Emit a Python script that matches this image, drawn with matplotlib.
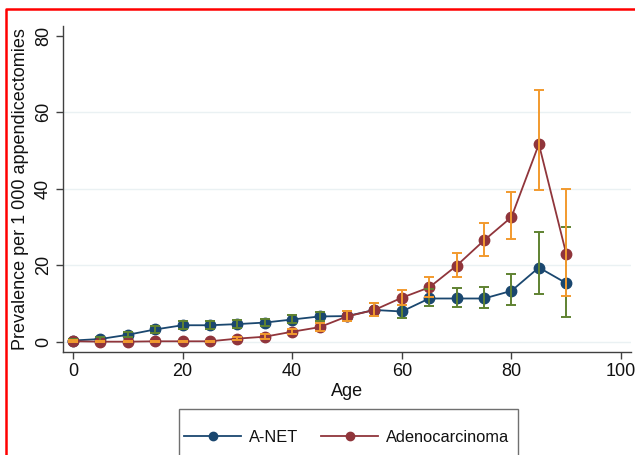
"""Prevalence of A-NET and adenocarcinoma per 1 000 appendicectomies by age,
with confidence-interval caps (Stata s2color look)."""

import matplotlib
matplotlib.use("Agg")
import matplotlib.pyplot as plt
from matplotlib.lines import Line2D
from matplotlib.patches import Rectangle

plt.rcParams["font.family"] = ["Liberation Sans", "DejaVu Sans"]

AGE = [0, 5, 10, 15, 20, 25, 30, 35, 40, 45, 50, 55, 60, 65, 70, 75, 80, 85, 90]

ANET = [0.3, 0.7, 1.8, 3.2, 4.3, 4.3, 4.6, 5.0, 5.8, 6.6, 6.7, 8.3, 7.9,
        11.3, 11.3, 11.3, 13.3, 19.4, 15.3]
ANET_LO = [0.0, 0.3, 1.1, 2.4, 3.4, 3.4, 3.7, 4.1, 4.8, 5.4, 5.4, 6.8, 6.3,
           9.3, 9.0, 8.7, 9.7, 12.4, 6.5]
ANET_HI = [0.8, 1.2, 2.6, 4.1, 5.3, 5.3, 5.6, 6.0, 6.9, 7.8, 8.0, 10.0, 9.7,
           13.7, 14.0, 14.4, 17.7, 28.8, 30.0]

ADENO = [0.1, 0.0, 0.0, 0.1, 0.1, 0.1, 0.8, 1.3, 2.6, 3.8, 6.6, 8.3, 11.5,
         14.2, 19.9, 26.5, 32.6, 51.7, 22.9]
ADENO_LO = [0.0, 0.0, 0.0, 0.0, 0.0, 0.0, 0.4, 0.8, 1.9, 2.9, 5.3, 6.8, 9.7,
            11.8, 16.9, 22.5, 26.9, 39.8, 11.9]
ADENO_HI = [0.4, 0.2, 0.2, 0.3, 0.3, 0.3, 1.3, 2.0, 3.4, 4.8, 8.0, 10.0, 13.5,
            17.0, 23.2, 31.1, 39.2, 65.9, 39.9]

LABELS = ["A-NET", "Adenocarcinoma"]
XTICKS = [0, 20, 40, 60, 80, 100]
YTICKS = [0, 20, 40, 60, 80]
GRID_Y = [0, 20, 40, 60]

NAVY = "#1a476f"
MAROON = "#90353b"
GREEN = "#5f8231"
ORANGE = "#f29a2e"
GRID = "#eaf1f3"
AXIS = "#404040"
TEXT = "#111111"

W, H = 635, 455


def caps(ax, y, lo, hi, color, z):
    # asymmetric CI caps drawn on top of the markers, like Stata's rcap
    ax.errorbar(AGE, y, yerr=[[v - l for v, l in zip(y, lo)],
                              [h - v for v, h in zip(y, hi)]],
                fmt="none", ecolor=color, elinewidth=1.4, capsize=3.5,
                capthick=1.4, zorder=z)


fig = plt.figure(figsize=(W / 100, H / 100), dpi=100)
fig.patch.set_facecolor("white")
ax = fig.add_axes([63 / W, 1 - 352 / H, (631 - 63) / W, (352 - 26) / H])

for g in GRID_Y:
    ax.axhline(g, color=GRID, linewidth=1.0, zorder=0)

ax.plot(AGE, ANET, color=NAVY, linewidth=1.3, marker="o", markersize=7.5,
        zorder=3)
ax.plot(AGE, ADENO, color=MAROON, linewidth=1.3, marker="o", markersize=7.5,
        zorder=4)
caps(ax, ANET, ANET_LO, ANET_HI, GREEN, 5)
caps(ax, ADENO, ADENO_LO, ADENO_HI, ORANGE, 6)

ax.set_xlim(-1.8, 101.8)
ax.set_ylim(-2.7, 82.6)
ax.set_xticks(XTICKS)
ax.set_yticks(YTICKS)
ax.tick_params(axis="both", length=5, width=1, color=AXIS, labelsize=13,
               labelcolor=TEXT, direction="out")
ax.tick_params(axis="y", labelrotation=90, pad=3)
ax.tick_params(axis="x", pad=3)
for lab in ax.get_yticklabels():
    lab.set_va("center")
for side in ("top", "right"):
    ax.spines[side].set_visible(False)
for side in ("left", "bottom"):
    ax.spines[side].set_color(AXIS)
    ax.spines[side].set_linewidth(1.0)

ax.set_xlabel("Age", fontsize=13, labelpad=2, color=TEXT)
ax.set_ylabel("Prevalence per 1 000 appendicectomies", fontsize=13,
              labelpad=4, color=TEXT)

# legend box runs past the bottom edge, as in the cropped original
fig.patches.append(Rectangle((179 / W, 1 - 470 / H), (518 - 179) / W, 61 / H,
                             transform=fig.transFigure, facecolor="white",
                             edgecolor="#707070", linewidth=1.0))
handles = [Line2D([], [], color=c, linewidth=1.3, marker="o", markersize=6)
           for c in (NAVY, MAROON)]
fig.legend(handles=handles, labels=LABELS, loc="center left",
           bbox_to_anchor=(184 / W, 1 - 437 / H), ncol=2, frameon=False,
           fontsize=11.8, handlelength=3.5, handletextpad=0.45,
           columnspacing=1.4, borderpad=0, borderaxespad=0,
           labelcolor=TEXT)

# red frame of the screenshot
fig.lines.append(Line2D([6 / W, 6 / W, 1.0], [0.0, 1 - 9 / H, 1 - 9 / H],
                        transform=fig.transFigure, color="red", linewidth=1.8))

fig.savefig("out.png", dpi=100, facecolor="white")
